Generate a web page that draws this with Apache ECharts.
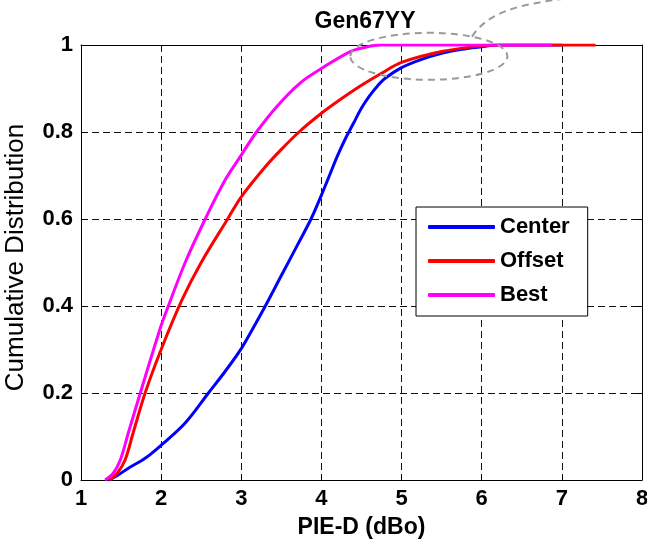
<!DOCTYPE html>
<html>
<head>
<meta charset="utf-8">
<script src="https://cdn.jsdelivr.net/npm/echarts@6/dist/echarts.min.js"></script>
<style>
html,body{margin:0;padding:0;background:#fff;}
#chart{width:647px;height:544px;}
</style>
</head>
<body>
<div id="chart"></div>
<script>
// ---- data ----
const titleText = 'Gen67YY';
const xName = 'PIE-D (dBo)';
const yName = 'Cumulative Distribution';
const seriesNames = ['Center', 'Offset', 'Best'];
const xTicks = [1, 2, 3, 4, 5, 6, 7, 8];
const yTicks = [0, 0.2, 0.4, 0.6, 0.8, 1];
const yTickLabels = ['0', '0.2', '0.4', '0.6', '0.8', '1'];

const centerData = [
  [1.34,0],[1.45,0.01],[1.59,0.027],[1.8,0.05],[2.0,0.08],[2.3,0.131],[2.59,0.2],
  [2.8,0.25],[3.0,0.302],[3.15,0.35],[3.3,0.4],[3.5,0.47],[3.7,0.54],
  [3.87,0.6],[4.0,0.655],[4.1,0.7],[4.2,0.745],[4.3,0.785],[4.4,0.82],[4.5,0.855],
  [4.6,0.883],[4.7,0.906],[4.8,0.924],[5.0,0.948],[5.25,0.967],[5.5,0.981],
  [5.75,0.99],[6.0,0.996],[6.2,1],[7.0,1]
];
const offsetData = [
  [1.36,0],[1.45,0.015],[1.55,0.046],[1.65,0.108],[1.8,0.2],[2.0,0.3],[2.26,0.414],
  [2.5,0.5],[2.83,0.6],[3.0,0.651],[3.3,0.72],[3.5,0.76],[3.72,0.8],[4.0,0.843],
  [4.2,0.87],[4.48,0.905],[4.75,0.935],[5.0,0.96],[5.5,0.985],[6.0,0.998],[6.3,1],[7.42,1]
];
const bestData = [
  [1.3,0],[1.4,0.015],[1.49,0.046],[1.59,0.108],[1.74,0.2],[2.0,0.355],[2.09,0.4],
  [2.3,0.5],[2.55,0.6],[2.8,0.69],[3.0,0.747],[3.19,0.8],[3.45,0.86],[3.73,0.912],
  [4.0,0.946],[4.36,0.985],[4.55,0.995],[4.73,1],[6.88,1]
];
// annotation ellipse in data units: center, x-radius, y-radius
const ellipseCenter = [5.34, 0.974];
const ellipseRadii = [0.98, 0.054];

const FONT = "'Liberation Sans', Arial, sans-serif";
const colors = ['#0000ff', '#ff0000', '#ff00ff'];

const chart = echarts.init(document.getElementById('chart'), null, {renderer: 'canvas'});

const gridLine = {show: true, lineStyle: {color: '#111', width: 1, type: [7, 4]}};
const axisLine = {show: true, onZero: false, lineStyle: {color: '#000', width: 1}};

const option = {
  animation: false,
  backgroundColor: '#fff',
  title: {
    text: titleText, left: 360, top: 5, textAlign: 'center',
    textStyle: {fontFamily: FONT, fontSize: 23, fontWeight: 'bold', color: '#000'}
  },
  grid: {left: 81, right: 5, top: 45, bottom: 64, containLabel: false, outerBoundsMode: 'none'},
  legend: {
    orient: 'vertical', left: 416, top: 207,
    padding: [8, 18, 9, 12], itemGap: 10,
    itemWidth: 67, itemHeight: 4, icon: 'roundRect',
    borderColor: '#000', borderWidth: 1, backgroundColor: '#fff',
    textStyle: {fontFamily: FONT, fontSize: 22, fontWeight: 'bold', color: '#000', lineHeight: 24},
    data: seriesNames
  },
  xAxis: [{
    type: 'value', min: xTicks[0], max: xTicks[xTicks.length - 1], interval: 1,
    position: 'bottom',
    name: xName, nameLocation: 'middle', nameGap: 36,
    nameTextStyle: {fontFamily: FONT, fontSize: 23, fontWeight: 'bold', color: '#000'},
    axisLine: axisLine,
    axisTick: {show: true, inside: true, length: 5, lineStyle: {color: '#000'}},
    axisLabel: {fontFamily: FONT, fontSize: 22, fontWeight: 'bold', color: '#000', margin: 8,
      formatter: v => String(xTicks[xTicks.indexOf(Math.round(v))])},
    splitLine: gridLine
  }, {
    type: 'value', min: xTicks[0], max: xTicks[xTicks.length - 1], interval: 1,
    position: 'top',
    axisLine: axisLine,
    axisTick: {show: true, inside: true, length: 5, lineStyle: {color: '#000'}},
    axisLabel: {show: false}, splitLine: {show: false}
  }],
  yAxis: [{
    type: 'value', min: 0, max: 1, interval: 0.2,
    position: 'left',
    name: yName, nameLocation: 'middle', nameGap: 52,
    nameTextStyle: {fontFamily: FONT, fontSize: 26, fontWeight: 'normal', color: '#000', padding: [0, 0, 0, 10]},
    axisLine: axisLine,
    axisTick: {show: true, inside: true, length: 5, lineStyle: {color: '#000'}},
    axisLabel: {fontFamily: FONT, fontSize: 22, fontWeight: 'bold', color: '#000', margin: 8,
      formatter: v => {
        const i = yTicks.findIndex(t => Math.abs(t - v) < 1e-6);
        return i >= 0 ? yTickLabels[i] : '';
      }},
    splitLine: gridLine
  }, {
    type: 'value', min: 0, max: 1, interval: 0.2,
    position: 'right',
    axisLine: axisLine,
    axisTick: {show: true, inside: true, length: 5, lineStyle: {color: '#000'}},
    axisLabel: {show: false}, splitLine: {show: false}
  }],
  series: [
    {name: seriesNames[0], data: centerData},
    {name: seriesNames[1], data: offsetData},
    {name: seriesNames[2], data: bestData}
  ].map((s, i) => ({
    name: s.name, type: 'line', data: s.data,
    xAxisIndex: 0, yAxisIndex: 0,
    showSymbol: false, symbol: 'none',
    smooth: 0.35,
    color: colors[i],
    lineStyle: {color: colors[i], width: 3},
    z: 3 + i
  }))
};
chart.setOption(option);

// annotation: dashed ellipse + leader curve, placed through the data scale
const c = chart.convertToPixel({gridIndex: 0}, ellipseCenter);
const ex = chart.convertToPixel({gridIndex: 0}, [ellipseCenter[0] + ellipseRadii[0], ellipseCenter[1]]);
const ey = chart.convertToPixel({gridIndex: 0}, [ellipseCenter[0], ellipseCenter[1] + ellipseRadii[1]]);
const rx = Math.abs(ex[0] - c[0]);
const ry = Math.abs(c[1] - ey[1]);
const startX = c[0] + rx * 0.55, startY = c[1] - ry * 0.84;
chart.setOption({
  graphic: [
    {type: 'ellipse', shape: {cx: c[0], cy: c[1], rx: rx, ry: ry}, z: 10,
      style: {fill: null, stroke: '#9a9a9a', lineWidth: 2, lineDash: [7, 5]}},
    {type: 'bezierCurve', z: 10,
      shape: {x1: startX, y1: startY, cpx1: startX + 20, cpy1: startY - 30, cpx2: startX + 60, cpy2: startY - 38, x2: startX + 180, y2: startY - 45},
      style: {fill: null, stroke: '#9a9a9a', lineWidth: 2, lineDash: [7, 5]}}
  ]
});
</script>
</body>
</html>
